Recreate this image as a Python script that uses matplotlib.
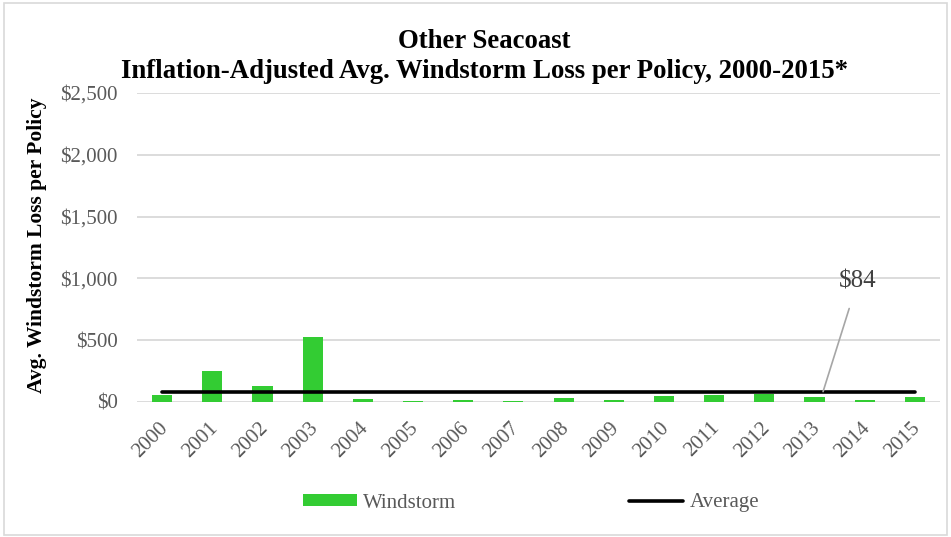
import numpy as np
import matplotlib
matplotlib.use("Agg")
import matplotlib.pyplot as plt
import matplotlib.transforms as mtransforms
from matplotlib.patches import Patch, Rectangle
from matplotlib.lines import Line2D
from matplotlib.ticker import FuncFormatter

# data
years = [str(y) for y in range(2000, 2016)]
windstorm = [55, 251, 131, 527, 25, 5, 14, 11, 35, 16, 46, 60, 65, 41, 16, 38]
average = 84
yticks = [0, 500, 1000, 1500, 2000, 2500]

plt.rcParams['font.family'] = ['Liberation Serif', 'DejaVu Serif']

green = '#33CC33'
grey_txt = '#595959'

fig = plt.figure(figsize=(9.51, 5.37), dpi=100)
ax = fig.add_axes([137/951, 1 - 402/537, (940 - 137)/951, (402 - 93)/537])

x = np.arange(len(years))
ax.bar(x, windstorm, width=0.4, color=green, zorder=2)
ax.plot(x, [average] * len(x), color='black', linewidth=2.6,
        solid_capstyle='round', zorder=3)

ax.set_xlim(-0.5, len(years) - 0.5)
ax.set_ylim(0, 2500)
ax.set_yticks(yticks)
ax.yaxis.set_major_formatter(FuncFormatter(lambda v, p: '${:,.0f}'.format(v)))
ax.set_xticks(x)
ax.set_xticklabels(years, rotation=45, ha='right', rotation_mode='anchor')
ax.tick_params(axis='both', length=0, labelsize=15, colors=grey_txt)
ax.tick_params(axis='y', pad=14)
ax.tick_params(axis='x', pad=12)
# nudge the slanted year labels a little to the left
shift = mtransforms.ScaledTranslation(-4/100, 0, fig.dpi_scale_trans)
for lbl in ax.get_xticklabels():
    lbl.set_transform(lbl.get_transform() + shift)
ax.grid(axis='y', color='#D9D9D9', linewidth=1.3, zorder=0)
ax.set_axisbelow(True)
for s in ax.spines.values():
    s.set_visible(False)

fig.text(37/951, 1 - 245/537, 'Avg. Windstorm Loss per Policy', rotation=90,
         ha='center', va='center', fontsize=15.5, fontweight='bold')

ax.annotate('${}'.format(average), xy=(13.17, average), xytext=(13.86, 975),
            fontsize=18, color='#404040', ha='center', va='center',
            arrowprops=dict(arrowstyle='-', color='#A6A6A6', lw=1.2,
                            shrinkA=10, shrinkB=0))

fig.text(484/951, 1 - 42/537, 'Other Seacoast', ha='center', va='center',
         fontsize=19.3, fontweight='bold')
fig.text(484/951, 1 - 72/537,
         'Inflation-Adjusted Avg. Windstorm Loss per Policy, 2000-2015*',
         ha='center', va='center', fontsize=19.3, fontweight='bold')

handles = [Patch(facecolor=green, edgecolor='none'),
           Line2D([0], [0], color='black', linewidth=2.6, solid_capstyle='round')]
leg = fig.legend(handles, ['Windstorm', 'Average'], loc='center',
                 bbox_to_anchor=(531/951, 1 - 503/537), ncol=2, frameon=False,
                 fontsize=15, handlelength=2.6, handleheight=0.45,
                 handletextpad=0.3, columnspacing=8.3)
for t in leg.get_texts():
    t.set_color(grey_txt)

fig.add_artist(Rectangle((0.004, 0.004), 0.992, 0.99, transform=fig.transFigure,
                         fill=False, edgecolor='#D9D9D9', linewidth=1.2))

fig.savefig('out.png', dpi=100)
